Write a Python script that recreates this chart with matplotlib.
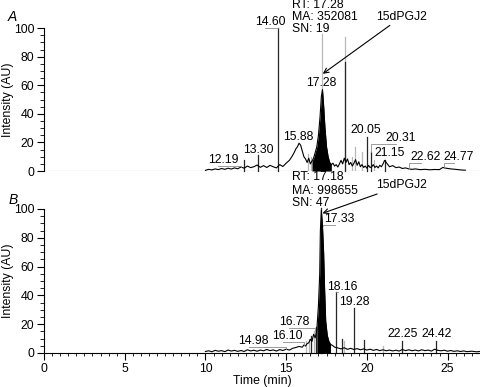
import matplotlib
matplotlib.use("Agg")
import matplotlib.pyplot as plt

plt.rcParams['font.family'] = ['Liberation Sans', 'DejaVu Sans']

# Chromatogram A (time in min, intensity in AU)
t_a = [10.0, 10.2, 10.4, 10.6, 10.8, 11.0, 11.2, 11.4, 11.6, 11.8, 12.0, 12.2, 12.4, 12.6,
       12.8, 13.0, 13.2, 13.4, 13.6, 13.8, 14.0, 14.2, 14.4, 14.6, 14.8, 15.0, 15.2, 15.35,
       15.5, 15.6, 15.7, 15.8, 15.9, 16.0, 16.1, 16.2, 16.3, 16.4, 16.5, 16.6, 16.7, 16.8,
       16.9, 17.0, 17.1, 17.18, 17.25, 17.32, 17.4, 17.5, 17.6, 17.7, 17.8, 17.9, 18.0, 18.1,
       18.2, 18.3, 18.4, 18.5, 18.6, 18.7, 18.8, 18.9, 19.0, 19.1, 19.2, 19.3, 19.4, 19.5,
       19.6, 19.7, 19.8, 19.9, 20.0, 20.1, 20.2, 20.3, 20.4, 20.5, 20.6, 20.7, 20.8, 20.9,
       21.0, 21.1, 21.2, 21.3, 21.4, 21.6, 21.8, 22.0, 22.2, 22.4, 22.6, 22.8, 23.0, 23.3,
       23.6, 23.9, 24.2, 24.5, 24.7, 24.9, 25.2, 25.5, 25.8, 26.1]
i_a = [0.5, 1.2, 0.8, 1.5, 1.0, 1.8, 1.2, 2.0, 1.4, 2.2, 1.6, 2.8, 2.0, 3.5,
       2.4, 3.0, 4.2, 2.6, 3.8, 2.5, 4.0, 3.0, 2.2, 4.5, 3.2, 5.5, 7.5, 10.0,
       13.0, 15.5, 17.0, 19.5, 18.0, 14.0, 10.0, 8.5, 6.0, 9.0, 5.0, 7.0, 9.0, 13.0,
       17.0, 25.0, 38.0, 52.0, 57.0, 46.0, 31.0, 17.0, 10.0, 6.0, 4.5, 5.5, 3.5, 4.5,
       2.8, 5.0, 7.5, 5.0, 9.0, 6.0, 8.5, 4.5, 6.0, 3.5, 5.5, 8.0, 4.0, 6.5,
       3.0, 4.5, 2.5, 3.5, 2.0, 4.0, 2.5, 3.0, 4.5, 2.5, 3.5, 2.2, 4.0, 3.0,
       5.0, 7.5, 6.0, 4.5, 3.0, 3.8, 2.4, 2.8, 1.8, 2.2, 1.5, 1.2, 1.5, 1.0,
       1.2, 0.9, 1.1, 1.0, 2.5, 2.0, 1.5, 1.2, 0.8, 0.6]
fill_a = (16.6, 17.8)

# Chromatogram B
t_b = [10.0, 10.2, 10.4, 10.6, 10.8, 11.0, 11.2, 11.4, 11.6, 11.8, 12.0, 12.2, 12.4, 12.6,
       12.8, 13.0, 13.2, 13.4, 13.6, 13.8, 14.0, 14.2, 14.4, 14.6, 14.8, 15.0, 15.2, 15.4,
       15.6, 15.8, 16.0, 16.1, 16.2, 16.3, 16.4, 16.5, 16.6, 16.7, 16.8, 16.9, 17.0, 17.08,
       17.12, 17.18, 17.25, 17.32, 17.38, 17.45, 17.55, 17.65, 17.75, 17.9, 18.0, 18.2, 18.4,
       18.6, 18.8, 19.0, 19.2, 19.4, 19.6, 19.8, 20.0, 20.2, 20.4, 20.6, 20.8, 21.0, 21.2,
       21.4, 21.6, 21.8, 22.0, 22.2, 22.4, 22.6, 22.8, 23.0, 23.2, 23.4, 23.6, 23.8, 24.0,
       24.2, 24.4, 24.6, 24.8, 25.0, 25.2, 25.4, 25.6, 25.8, 26.0, 26.2, 26.5, 26.8, 27.0]
i_b = [1.0, 1.5, 0.8, 1.8, 1.2, 1.6, 0.9, 2.0, 1.3, 1.8, 1.1, 1.7, 1.0, 2.2,
       1.4, 1.9, 1.2, 2.0, 1.5, 2.4, 1.6, 2.1, 1.3, 2.3, 1.7, 2.6, 2.0, 3.2,
       3.8, 4.5, 4.0, 5.5, 4.8, 6.5, 7.0, 9.5, 8.0, 13.0, 10.5, 16.0, 33.0, 55.0,
       85.0, 99.0, 88.0, 70.0, 45.0, 22.0, 12.0, 8.0, 6.0, 5.0, 4.0, 3.5, 2.8,
       3.6, 2.5, 3.2, 2.4, 3.0, 2.2, 2.8, 2.0, 2.6, 1.8, 2.4, 1.6, 2.2, 1.5,
       2.0, 1.4, 1.9, 1.3, 2.4, 1.6, 2.2, 1.5, 2.0, 1.4, 2.2, 1.6, 2.0, 1.3,
       2.6, 1.8, 1.5, 1.9, 1.2, 1.7, 1.1, 1.5, 1.0, 1.4, 0.9, 1.2, 0.8, 1.0]
fill_b = (16.9, 17.8)

# narrow spikes (time, height)
spikes_a_dark = [(12.4, 8), (13.25, 11), (14.5, 100), (18.65, 76), (20.0, 24), (20.25, 13), (21.1, 8)]
spikes_a_grey = [(16.35, 12), (16.55, 10), (17.25, 96), (18.65, 94), (19.05, 10), (19.25, 17),
                 (19.7, 13), (20.45, 8)]
spikes_b_dark = [(16.55, 12), (16.85, 18), (17.18, 101), (18.08, 42), (18.45, 10), (19.2, 31),
                 (19.8, 9), (22.2, 8), (24.3, 8)]
spikes_b_grey = [(16.25, 8), (16.4, 10), (16.7, 15), (18.6, 8), (21.0, 5)]

# peak labels: text, peak time, peak height
labels_a = ["12.19", "13.30", "14.60", "15.88", "17.28", "20.05", "20.31", "21.15", "22.62", "24.77"]
peaks_a_t = [12.19, 13.25, 14.5, 15.8, 17.25, 20.0, 20.25, 21.1, 22.62, 24.77]
peaks_a_h = [3, 11, 100, 19.5, 57, 24, 13, 7.5, 1.5, 2.5]
labels_b = ["14.98", "16.10", "16.78", "17.33", "18.16", "19.28", "22.25", "24.42"]
peaks_b_t = [14.98, 16.1, 16.78, 17.3, 18.08, 19.2, 22.2, 24.3]
peaks_b_h = [2.6, 5.5, 15, 88, 42, 31, 8, 8]

# RT / MA / SN boxes
info_a = ["RT: 17.28", "MA: 352081", "SN: 19"]
info_b = ["RT: 17.18", "MA: 998655", "SN: 47"]

# label centres (layout)
pos_a = [(11.1, 7.7), (13.25, 14.7), (14.0, 104), (15.73, 24), (17.2, 61.5), (19.94, 29),
         (22.1, 23), (21.4, 12.6), (23.65, 9.8), (25.7, 9.8)]
pos_b = [(13.0, 8.3), (15.1, 11.8), (15.5, 21.5), (18.3, 93), (18.5, 46), (19.25, 35.5),
         (22.2, 13), (24.35, 13)]
info_y_a = [116.0, 107.5, 99.3]
info_y_b = [122.0, 112.5, 104.0]

fs = 8.8

fig = plt.figure(figsize=(4.8, 3.87), dpi=100)
ax1 = fig.add_axes([0.0917, 0.558, 0.908, 0.3695])
ax2 = fig.add_axes([0.0917, 0.088, 0.908, 0.372])

def draw_panel(ax, t, y, fill, dark, grey, labels, pt, ph, pos):
    for x, h in grey:
        ax.plot([x, x], [0, h], color='0.72', lw=0.9, zorder=1)
    for x, h in dark:
        ax.plot([x, x], [0, h], color='0.15', lw=0.9, zorder=2, clip_on=False)
    ax.plot(t, y, color='black', lw=0.8, zorder=3)
    ax.fill_between(t, 0, y, where=[(fill[0] <= v <= fill[1]) for v in t],
                    color='black', lw=0, zorder=3)
    for lab, x, h, (lx, ly) in zip(labels, pt, ph, pos):
        ax.text(lx, ly, lab, ha='center', va='center', fontsize=fs, zorder=5)
        if abs(lx - x) > 0.35:
            yb = ly - 4
            ax.plot([lx - 0.3, x, x], [yb, yb, h], color='0.55', lw=0.6, zorder=4)
    ax.set_xlim(0, 27)
    ax.set_ylim(0, 100)
    ax.set_yticks([0, 20, 40, 60, 80, 100])
    ax.set_yticks(range(0, 101, 5), minor=True)
    ax.tick_params(axis='y', which='major', length=5, width=0.8, labelsize=fs, pad=2)
    ax.tick_params(axis='y', which='minor', length=3, width=0.6)
    ax.spines['top'].set_visible(False)
    ax.spines['right'].set_visible(False)
    ax.set_ylabel("Intensity (AU)", fontsize=fs, labelpad=0)

draw_panel(ax1, t_a, i_a, fill_a, spikes_a_dark, spikes_a_grey, labels_a, peaks_a_t, peaks_a_h, pos_a)
draw_panel(ax2, t_b, i_b, fill_b, spikes_b_dark, spikes_b_grey, labels_b, peaks_b_t, peaks_b_h, pos_b)

# top panel: plain baseline, no x ticks
ax1.spines['bottom'].set_visible(False)
ax1.axhline(0, color='0.6', lw=0.8, zorder=0)
ax1.set_xticks([])

ax2.set_xticks([0, 5, 10, 15, 20, 25])
ax2.set_xticks([v * 0.5 for v in range(0, 55)], minor=True)
ax2.tick_params(axis='x', which='major', length=5, width=0.8, labelsize=fs, pad=2)
ax2.tick_params(axis='x', which='minor', length=2.5, width=0.6)
ax2.set_xlabel("Time (min)", fontsize=fs, labelpad=0)

# annotations for the 15dPGJ2 peak
for ax, info, ys in [(ax1, info_a, info_y_a), (ax2, info_b, info_y_b)]:
    for s, yy in zip(info, ys):
        ax.text(15.36, yy, s, fontsize=fs, ha='left', va='center', clip_on=False)
ax1.annotate("15dPGJ2", xy=(17.27, 68), xytext=(20.6, 108), fontsize=fs, ha='left', va='center',
             arrowprops=dict(arrowstyle='->', color='black', lw=0.8, shrinkA=0, shrinkB=0),
             annotation_clip=False)
ax2.annotate("15dPGJ2", xy=(17.25, 97), xytext=(20.6, 116.5), fontsize=fs, ha='left', va='center',
             arrowprops=dict(arrowstyle='->', color='black', lw=0.8, shrinkA=0, shrinkB=0),
             annotation_clip=False)

fig.text(0.017, 0.956, "A", fontsize=10, style='italic', va='center')
fig.text(0.017, 0.483, "B", fontsize=10, style='italic', va='center')

fig.savefig("out.png", dpi=100)
